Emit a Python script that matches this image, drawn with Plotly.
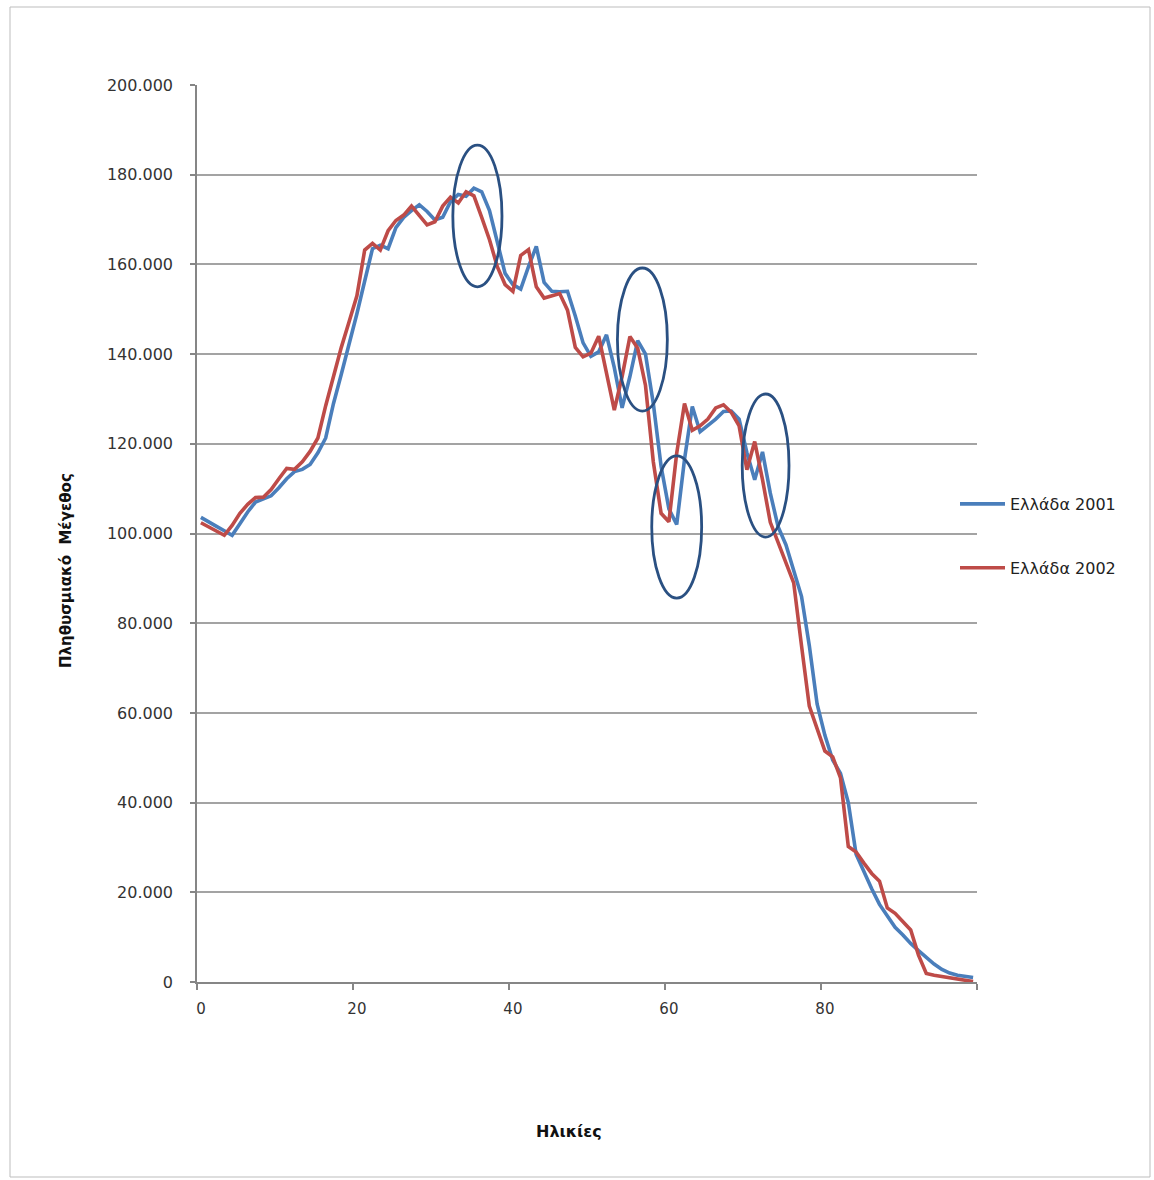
import plotly.graph_objects as go

# Age groups 0..99 (single years)
ages = list(range(100))

# Population by single year of age
greece_2001 = [
    103600, 102500, 101600, 100600, 99600, 102200, 104800, 107000, 107700, 108400,
    110200, 112200, 113800, 114300, 115400, 118000, 121300, 129000, 135500, 142000,
    149000, 156300, 163500, 164300, 163500, 168200, 170500, 172000, 173300, 171800,
    169900, 170500, 174000, 175600, 175200, 177000, 176200, 172000, 165000, 158000,
    155500, 154500, 159500, 164000, 156000, 154000, 153900, 154000, 148500, 142500,
    139500, 140500, 144300, 137000, 128000, 135000, 143000, 140000, 129000, 115000,
    105500, 102000, 116500, 128300, 122700, 124000, 125500, 127200, 127300, 125500,
    118000, 112000, 118200, 109000, 101500, 97500, 92000, 86000, 75000, 62000,
    55000, 49500, 46500, 40000, 28500, 24500, 20800, 17300, 14600, 12200,
    10500, 8600, 7000, 5400, 4000, 2800, 2000, 1500, 1200, 1000,
]

greece_2002 = [
    102400, 101400, 100500, 99600, 101800, 104500, 106500, 108000, 108100, 109800,
    112200, 114500, 114300, 116000, 118300, 121300, 128500, 135000, 141500, 147200,
    153000, 163200, 164700, 163200, 167500, 169800, 171000, 173000, 171000, 168800,
    169500, 173000, 175000, 173700, 176200, 175300, 170500, 165500, 159500, 155500,
    154000, 162000, 163300, 155000, 152500, 153000, 153500, 149800, 141500, 139400,
    140200, 144000, 135700, 127500, 135000, 143900, 141300, 133000, 116000, 104500,
    102600, 117900, 129000, 123000, 124000, 125500, 128000, 128700, 127000, 124000,
    114200, 120500, 112000, 102500, 98000, 93500, 89000, 75000, 61500, 56500,
    51500, 50200, 45500, 30200, 29000, 26500, 24200, 22500, 16500, 15300,
    13500, 11600, 6000, 1900, 1500, 1200, 900, 700, 400, 100,
]

series_names = ["Ελλάδα 2001", "Ελλάδα 2002"]
x_tick_values = [0, 20, 40, 60, 80]
y_tick_values = list(range(0, 200001, 20000))

# Highlighted regions (age from, age to, population from, population to)
highlights = [
    (32.3, 38.6, 155000, 186600),
    (53.4, 59.8, 127300, 159200),
    (57.8, 64.2, 85600, 117300),
    (69.4, 75.4, 99200, 131100),
]

BLUE = "#4A7EBB"
RED = "#BE4B48"
RING = "#2A5082"
AXIS = "#868686"
GRID = "#A3A3A3"

fig = go.Figure()
for name, values, color in [
    (series_names[0], greece_2001, BLUE),
    (series_names[1], greece_2002, RED),
]:
    fig.add_trace(go.Scatter(
        x=ages, y=values, mode="lines", name=name,
        line=dict(color=color, width=3.6),
        legendgroup=name,
    ))

for a0, a1, p0, p1 in highlights:
    fig.add_shape(
        type="circle", xref="x", yref="y",
        x0=a0, x1=a1, y0=p0, y1=p1,
        line=dict(color=RING, width=2.8),
        layer="above",
    )

# outer frame of the chart area
fig.add_shape(
    type="rect", xref="paper", yref="paper",
    x0=(10 - 197) / 780, x1=(1150 - 197) / 780,
    y0=(982 - 1177) / 897, y1=(982 - 7) / 897,
    line=dict(color="#BDBDBD", width=1), layer="below",
)

fig.add_annotation(
    text="<b>Πληθυσμιακό  Μέγεθος</b>", xref="paper", yref="paper",
    x=(55 - 197) / 780, y=(982 - 571) / 897, textangle=-90, showarrow=False,
    font=dict(family="DejaVu Sans", size=15, color="#111111"),
)
fig.add_annotation(
    text="<b>Ηλικίες</b>", xref="paper", yref="paper",
    x=(569 - 197) / 780, y=(982 - 1143) / 897, showarrow=False,
    font=dict(family="DejaVu Sans", size=16, color="#111111"),
)

fig.update_layout(
    width=1154, height=1180,
    margin=dict(l=197, r=177, t=85, b=198),
    paper_bgcolor="white", plot_bgcolor="white",
    separators=",.",
    font=dict(family="DejaVu Sans", size=14, color="#404040"),
    showlegend=True,
    legend=dict(
        x=(955 - 197) / 780, y=(982 - 487) / 897,
        xanchor="left", yanchor="top",
        font=dict(family="DejaVu Sans", size=16, color="#222222"),
        tracegroupgap=40, itemwidth=45,
        bgcolor="rgba(0,0,0,0)",
    ),
)

fig.update_xaxes(
    range=[-0.5, 99.5],
    tickmode="array", tickvals=x_tick_values,
    ticks="", showgrid=False, zeroline=False,
    showline=True, linecolor=AXIS, linewidth=1.5,
    ticklabelstandoff=12,
    tickfont=dict(family="DejaVu Sans", size=15, color="#333333"),
    minor=dict(tickmode="array", tickvals=[-0.5, 19.5, 39.5, 59.5, 79.5, 99.5],
               ticks="outside", ticklen=6, tickcolor=AXIS, tickwidth=1.5, showgrid=False),
)
fig.update_yaxes(
    range=[0, 200000],
    tickmode="array", tickvals=y_tick_values, tickformat=",d",
    ticks="outside", ticklen=5, tickcolor=AXIS, tickwidth=1.5,
    showgrid=True, gridcolor=GRID, gridwidth=1.6, zeroline=False,
    showline=True, linecolor=AXIS, linewidth=1.5,
    ticklabelstandoff=14,
    tickfont=dict(family="DejaVu Sans", size=16, color="#333333"),
)

fig.write_html("out.html")
